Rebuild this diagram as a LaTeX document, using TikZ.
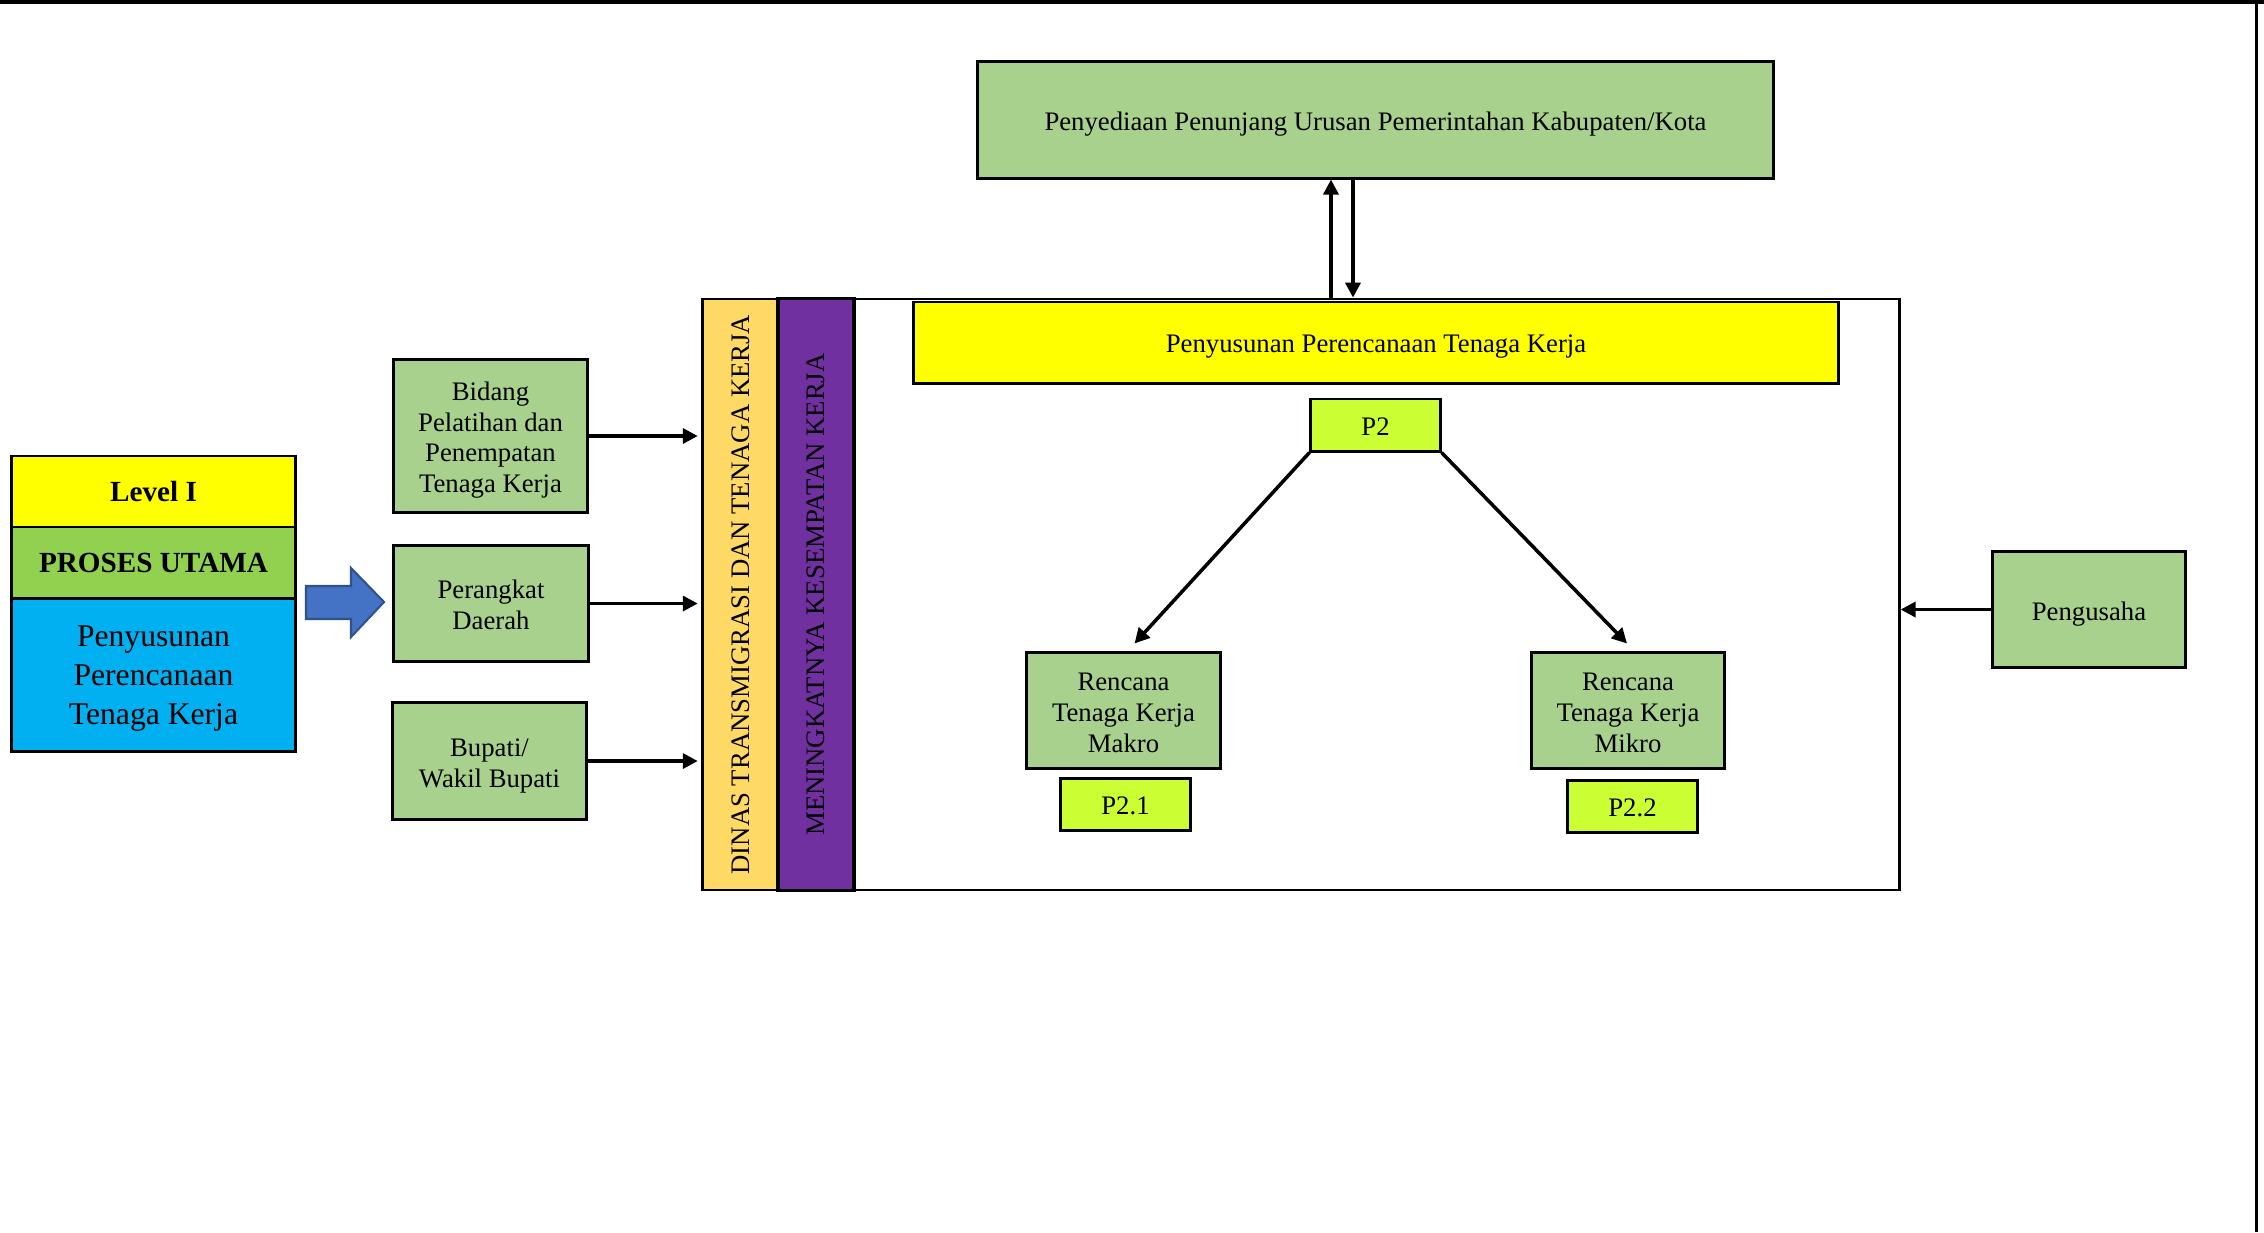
\documentclass[tikz,border=0pt]{standalone}
\usepackage{fontspec}
\setmainfont{Liberation Serif}
\usetikzlibrary{arrows.meta,calc}
\definecolor{boxgreen}{HTML}{A9D18E}
\definecolor{lvlyellow}{HTML}{FFFF00}
\definecolor{lvlgreen}{HTML}{92D050}
\definecolor{lvlblue}{HTML}{00B0F0}
\definecolor{stripyellow}{HTML}{FFD966}
\definecolor{strippurple}{HTML}{7030A0}
\definecolor{limebox}{HTML}{CCFF33}
\definecolor{arrowblue}{HTML}{4472C4}
\definecolor{arrowedge}{HTML}{2F528F}
\newcommand{\topst}{\rule{0pt}{1em}}
\newcommand{\topsb}{\rule{0pt}{0.9em}}
\newcommand{\botst}{\rule[-0.2em]{0pt}{0.2em}}
\begin{document}
\begin{tikzpicture}[x=0.01cm,y=-0.01cm,
  box/.style={draw, line width=0.85pt, inner sep=0pt, align=center,
    font=\fontsize{7.6}{8.8}\selectfont},
  gbox/.style={box, fill=boxgreen},
  pbox/.style={box, fill=limebox, minimum width=1.29cm, minimum height=0.52cm},
  strip/.style={draw, line width=0.7pt, inner sep=0pt, minimum width=0.75cm, minimum height=5.91cm},
  rtext/.style={rotate=90, font=\fontsize{7.6}{8.8}\selectfont},
  lvl/.style={draw, line width=0.85pt, inner sep=0pt, align=center, minimum width=2.83cm},
  arr/.style={line width=1pt, -{Triangle[length=0.15cm,width=0.15cm]}}
]
\useasboundingbox (0,0) rectangle (2264,1232);
% frame lines
\draw[line width=0.04cm] (0,2) -- (2264,2);
\draw[line width=0.03cm] (2256,0) -- (2256,1232);

% top box
\node[gbox, minimum width=7.95cm, minimum height=1.16cm] (pen) at (1375.5,120)
  {\topst Penyediaan Penunjang Urusan Pemerintahan Kabupaten/Kota\botst};

% container and strips
\node[draw, line width=0.7pt, fill=white, inner sep=0pt, minimum width=11.96cm, minimum height=5.91cm] (cont) at (1301,594.5) {};
\node[strip, fill=stripyellow] (dinas) at (740.5,594.5) {};
\node[rtext] (dinast) at (dinas.center) {DINAS TRANSMIGRASI DAN TENAGA KERJA};
\node[strip, fill=strippurple, line width=0.9pt, minimum width=0.76cm] (ungu) at (816,594.5) {};
\node[rtext] (ungut) at (ungu.center) {MENINGKATNYA KESEMPATAN KERJA};

% header
\node[box, fill=lvlyellow, minimum width=9.24cm, minimum height=0.81cm] (head) at (1376,342.5)
  {\topst Penyusunan Perencanaan Tenaga Kerja\botst};

% P2 tree
\node[pbox] (p2) at (1375.5,425) {\topst P2\botst};
\node[gbox, minimum width=1.93cm, minimum height=1.15cm] (makro) at (1123.5,710.5)
  {\topst Rencana\\Tenaga Kerja\\Makro\botst};
\node[pbox] (p21) at (1125.5,804) {\topst P2.1\botst};
\node[gbox, minimum width=1.92cm, minimum height=1.15cm] (mikro) at (1628,710.5)
  {\topst Rencana\\Tenaga Kerja\\Mikro\botst};
\node[pbox] (p22) at (1632.5,806) {\topst P2.2\botst};

% Pengusaha
\node[gbox, minimum width=1.92cm, minimum height=1.15cm] (peng) at (2089,609.5) {\topst Pengusaha\botst};

% left boxes
\node[gbox, minimum width=1.93cm, minimum height=1.52cm] (bidang) at (490.5,436)
  {\topst Bidang\\Pelatihan dan\\Penempatan\\Tenaga Kerja\botst};
\node[gbox, minimum width=1.94cm, minimum height=1.15cm] (perangkat) at (491,603.5)
  {\topst Perangkat\\Daerah\botst};
\node[gbox, minimum width=1.93cm, minimum height=1.16cm] (bupati) at (489.5,761)
  {\topst Bupati/\\Wakil Bupati\botst};

% level stack
\node[lvl, fill=lvlyellow, minimum height=0.71cm, font=\fontsize{8.3}{10}\selectfont\bfseries] (level) at (153.5,491.5) {Level I};
\node[lvl, fill=lvlgreen, minimum height=0.72cm, font=\fontsize{8.3}{10}\selectfont\bfseries] (proses) at (153.5,563) {PROSES UTAMA};
\node[lvl, fill=lvlblue, minimum height=1.52cm, font=\fontsize{9}{11.1}\selectfont] (tema) at (153.5,675)
  {\topsb Penyusunan\\Perencanaan\\Tenaga Kerja\botst};

% blue block arrow
\draw[fill=arrowblue, draw=arrowedge, line width=0.6pt]
  (306,586) -- (351,586) -- (351,568) -- (384,602) -- (351,637) -- (351,619) -- (306,619) -- cycle;

% connectors
\draw[arr] ([xshift=-0.445cm]pen.south |- cont.north) -- ([xshift=-0.445cm]pen.south);
\draw[arr] ([xshift=-0.225cm]pen.south) -- ([xshift=-0.225cm]pen.south |- cont.north);
\draw[arr] (p2.south west) -- ($(makro.north)+(11,-8)$);
\draw[arr] (p2.south east) -- ($(mikro.north)+(-1,-8)$);
\draw[arr] (peng.west) -- (cont.east |- peng.west);
\draw[arr] (bidang.east) -- ($(dinas.west |- bidang.east)+(-4,0)$);
\draw[arr] (perangkat.east) -- ($(dinas.west |- perangkat.east)+(-4,0)$);
\draw[arr] (bupati.east) -- ($(dinas.west |- bupati.east)+(-4,0)$);
\end{tikzpicture}
\end{document}
